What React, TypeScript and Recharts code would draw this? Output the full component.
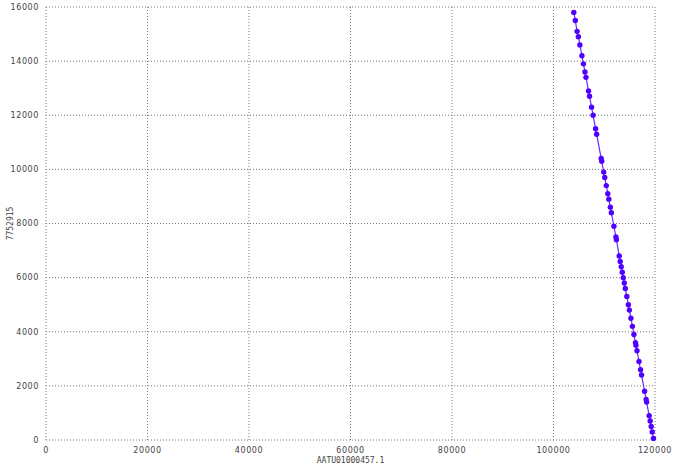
import { ScatterChart, Scatter, XAxis, YAxis, CartesianGrid } from 'recharts';

// contig positions (x) vs reference positions (y)
const xPos = [
  104000, 104300, 104650, 104900, 105200, 105600, 105900, 106200, 106400, 106900,
  107100, 107500, 107800, 108300, 108500, 109400, 109500, 109900, 110100, 110400,
  110700, 110900, 111200, 111400, 111900, 112300, 112400, 112950, 113150, 113350,
  113550, 113750, 113950, 114150, 114450, 114750, 114950, 115250, 115550, 115850,
  116150, 116250, 116450, 116850, 117150, 117350, 117950, 118250, 118350, 118850,
  119050, 119250, 119450, 119700,
];
const yPos = [
  15800, 15500, 15100, 14900, 14600, 14200, 13900, 13600, 13400, 12900,
  12700, 12300, 12000, 11500, 11300, 10400, 10300, 9900, 9700, 9400,
  9100, 8900, 8600, 8400, 7900, 7500, 7400, 6800, 6600, 6400,
  6200, 6000, 5800, 5600, 5300, 5000, 4800, 4500, 4200, 3900,
  3600, 3500, 3300, 2900, 2600, 2400, 1800, 1500, 1400, 900,
  700, 500, 300, 60,
];
const xTicks = [0, 20000, 40000, 60000, 80000, 100000, 120000];
const yTicks = [0, 2000, 4000, 6000, 8000, 10000, 12000, 14000, 16000];

const points = xPos.map((x, i) => ({ x, y: yPos[i] }));

const tickStyle = { fontSize: 8, fill: '#444', fontFamily: 'DejaVu Sans', letterSpacing: 0.6 };

const Dot = (props: any) => {
  const { cx, cy } = props;
  return <circle cx={cx} cy={cy} r={2.7} fill='#5000ff' />;
};

export default function App() {
  return (
    <div style={{ position: 'absolute', left: 0, top: 0, background: '#fff' }}>
      <ScatterChart
        width={675}
        height={468}
        margin={{ top: 7, right: 20, bottom: 8, left: 0 }}
      >
        <CartesianGrid stroke='#777' strokeDasharray='1 2' />
        <XAxis
          type='number'
          dataKey='x'
          domain={[0, 120000]}
          ticks={xTicks}
          axisLine={false}
          tickLine={false}
          height={20}
          tick={tickStyle}
          tickMargin={1}
          label={{
            value: 'AATU01000457.1',
            position: 'insideBottom',
            offset: -3,
            style: { fontSize: 8, fill: '#444', fontFamily: 'DejaVu Sans Mono' },
          }}
        />
        <YAxis
          type='number'
          dataKey='y'
          domain={[0, 16000]}
          ticks={yTicks}
          axisLine={false}
          tickLine={false}
          width={46}
          tick={tickStyle}
          tickMargin={1}
          label={{
            value: '7752915',
            angle: -90,
            position: 'insideLeft',
            offset: 10,
            style: { fontSize: 8, fill: '#444', fontFamily: 'DejaVu Sans Mono', textAnchor: 'middle' },
          }}
        />
        <Scatter
          data={points}
          line={{ stroke: '#6a2cff', strokeWidth: 1.2 }}
          shape={<Dot />}
          isAnimationActive={false}
        />
      </ScatterChart>
    </div>
  );
}
